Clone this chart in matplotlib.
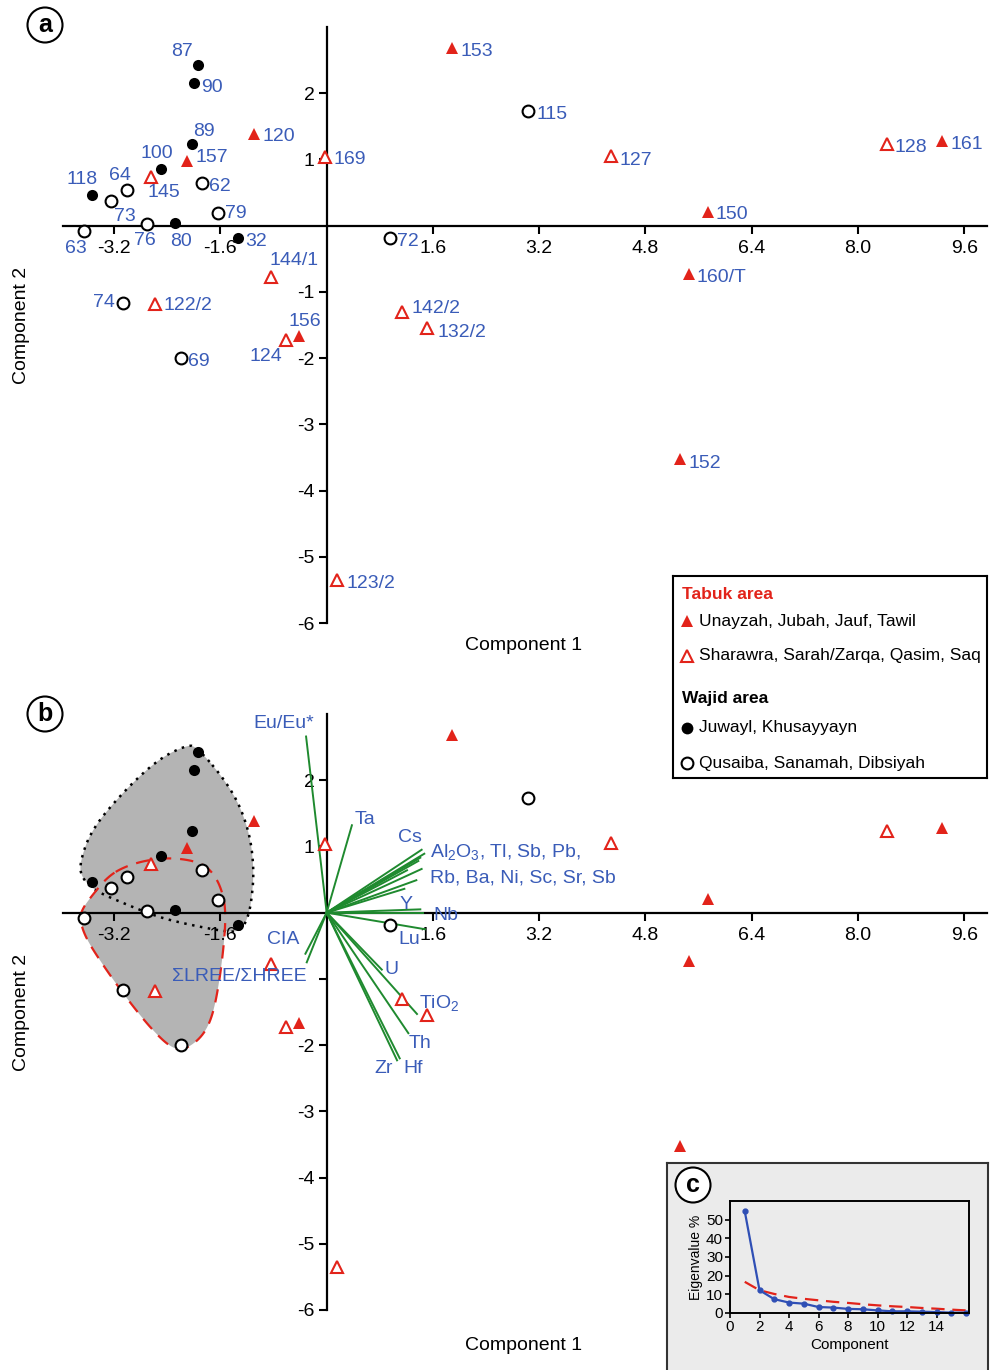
import matplotlib
matplotlib.use("Agg")
import matplotlib.pyplot as plt
import numpy as np
from matplotlib.patches import Polygon

plt.rcParams["font.family"] = ["Liberation Sans", "DejaVu Sans"]
plt.rcParams["mathtext.fontset"] = "custom"
plt.rcParams["mathtext.rm"] = "Liberation Sans"
plt.rcParams["mathtext.it"] = "Liberation Sans:italic"
plt.rcParams["mathtext.bf"] = "Liberation Sans:bold"

BLUE = "#3a5cb8"
RED = "#e2231a"
GREEN = "#1f8a2f"
GRAY_FILL = "#b4b4b4"

# ---- PCA scores (component 1, component 2) ----
tabuk_filled_ids = ["153", "120", "157", "161", "150", "160/T", "156", "152"]
tabuk_filled_pc1 = [1.88, -1.10, -2.11, 9.27, 5.74, 5.45, -0.42, 5.32]
tabuk_filled_pc2 = [2.68, 1.39, 0.98, 1.28, 0.21, -0.73, -1.67, -3.53]

tabuk_open_ids = ["169", "127", "128", "145", "144/1", "122/2", "142/2", "132/2", "124", "123/2"]
tabuk_open_pc1 = [-0.03, 4.28, 8.44, -2.64, -0.84, -2.58, 1.13, 1.51, -0.61, 0.16]
tabuk_open_pc2 = [1.04, 1.05, 1.24, 0.73, -0.77, -1.18, -1.31, -1.55, -1.73, -5.35]

wajid_filled_ids = ["87", "90", "89", "100", "118", "80", "32"]
wajid_filled_pc1 = [-1.93, -2.00, -2.03, -2.50, -3.53, -2.28, -1.34]
wajid_filled_pc2 = [2.43, 2.15, 1.23, 0.86, 0.46, 0.04, -0.19]

wajid_open_ids = ["115", "64", "73", "62", "79", "76", "63", "72", "74", "69"]
wajid_open_pc1 = [3.03, -3.01, -3.24, -1.88, -1.64, -2.71, -3.65, 0.95, -3.07, -2.20]
wajid_open_pc2 = [1.73, 0.54, 0.38, 0.65, 0.19, 0.03, -0.08, -0.18, -1.17, -2.00]

# label offsets in pixels (dx, dy) from the marker
label_offsets = {
    "87": (-16, 13), "90": (18, -4), "89": (12, 13), "120": (25, -3), "169": (25, -3),
    "153": (25, -3), "115": (24, -3), "127": (25, -4), "128": (24, -4), "161": (24, -4),
    "150": (24, -3), "100": (-4, 15), "157": (25, 3), "118": (-10, 16), "64": (-7, 14),
    "145": (13, -15), "62": (18, -4), "73": (13, -16), "79": (18, 0), "76": (-2, -17),
    "80": (6, -18), "63": (-8, -18), "32": (18, -3), "72": (18, -4), "160/T": (33, -3),
    "144/1": (23, 16), "74": (-19, 1), "122/2": (33, -2), "142/2": (34, 4),
    "132/2": (35, -4), "156": (6, 15), "124": (-20, -16), "69": (18, -3),
    "152": (25, -4), "123/2": (34, -4),
}

# ---- loading vectors (panel b) ----
vector_pc1 = [-0.31, 0.38, 1.43, 1.47, 1.41, 1.38, 1.21, 1.43, 1.35, 1.17,
              1.41, 1.45, 1.48, -0.32, -0.30, 0.83, 1.36, 1.23, 1.06, 1.10]
vector_pc2 = [2.66, 1.32, 0.95, 0.89, 0.83, 0.78, 0.64, 0.66, 0.49, 0.36,
              0.05, 0.00, -0.25, -0.62, -0.75, -0.86, -1.53, -1.82, -2.23, -2.20]

vector_labels = [
    ("Eu/Eu*", -0.64, 2.85, "center"),
    ("Ta", 0.58, 1.41, "center"),
    ("Cs", 1.26, 1.14, "center"),
    (r"Al$_2$O$_3$, Tl, Sb, Pb,", 1.56, 0.92, "left"),
    ("Rb, Ba, Ni, Sc, Sr, Sb", 1.56, 0.53, "left"),
    ("Y", 1.20, 0.12, "center"),
    ("Nb", 1.80, -0.05, "center"),
    ("Lu", 1.24, -0.41, "center"),
    ("CIA", -0.65, -0.41, "center"),
    ("ΣLREE/ΣHREE", -1.32, -0.97, "center"),
    ("U", 0.97, -0.86, "center"),
    (r"TiO$_2$", 1.70, -1.36, "center"),
    ("Th", 1.41, -1.98, "center"),
    ("Zr", 0.86, -2.36, "center"),
    ("Hf", 1.30, -2.36, "center"),
]

# ---- group outlines (panel b) ----
juwayl_outline_x = [-1.96, -1.42, -1.17, -1.09, -1.14, -1.22, -1.32, -1.50, -2.03, -2.53,
                    -3.03, -3.49, -3.69, -3.72, -3.54, -3.03, -2.53, -2.13]
juwayl_outline_y = [2.52, 1.86, 1.26, 0.65, 0.10, -0.16, -0.28, -0.29, -0.19, -0.07,
                    0.13, 0.33, 0.53, 0.75, 1.26, 1.86, 2.32, 2.52]

qusaiba_outline_x = [-3.29, -3.03, -2.68, -2.28, -1.87, -1.67, -1.55, -1.52, -1.55, -1.62,
                     -1.72, -1.87, -2.13, -2.33, -2.63, -3.03, -3.39, -3.64, -3.72, -3.67, -3.54]
qusaiba_outline_y = [0.55, 0.70, 0.80, 0.83, 0.75, 0.55, 0.25, -0.06, -0.51, -1.07,
                     -1.57, -1.87, -2.07, -2.05, -1.77, -1.27, -0.76, -0.36, -0.08, 0.07, 0.25]

# ---- eigenvalues (panel c) ----
component_no = list(range(1, 17))
eigen_pct = [54.5, 12.2, 7.4, 5.6, 5.0, 3.2, 2.9, 2.2, 2.0, 1.4, 0.9, 0.9, 0.7, 0.5, 0.2, 0.2]
broken_stick_pct = [16.7, 12.2, 10.2, 8.6, 7.6, 6.8, 6.0, 5.4, 4.7, 4.1, 3.6, 3.2, 2.7, 2.3, 1.8, 1.4]

xtick_vals = [-3.2, -1.6, 1.6, 3.2, 4.8, 6.4, 8.0, 9.6]
ytick_vals = [-6, -5, -4, -3, -2, -1, 1, 2]


def chaikin(xs, ys, n_iter=3):
    pts = np.column_stack([xs, ys])
    for _ in range(n_iter):
        nxt = np.roll(pts, -1, axis=0)
        q = 0.75 * pts + 0.25 * nxt
        r = 0.25 * pts + 0.75 * nxt
        pts = np.empty((2 * len(q), 2))
        pts[0::2] = q
        pts[1::2] = r
    return pts


def setup_axes(ax, hide_ylabels=()):
    ax.set_xlim(-3.97, 9.95)
    ax.set_ylim(-6, 3)
    ax.patch.set_visible(False)
    ax.spines["top"].set_visible(False)
    ax.spines["right"].set_visible(False)
    for s in ("left", "bottom"):
        ax.spines[s].set_position(("data", 0))
        ax.spines[s].set_linewidth(1.6)
    ax.set_xticks(xtick_vals)
    ax.set_xticklabels([f"{v:.1f}" for v in xtick_vals])
    ax.set_yticks(ytick_vals)
    ax.set_yticklabels(["" if v in hide_ylabels else str(v) for v in ytick_vals])
    ax.tick_params(direction="out", length=6, width=1.5, labelsize=14)
    ax.tick_params(axis="x", pad=4.5)
    ax.tick_params(axis="y", pad=2.5)


def plot_points(ax, zorder=4):
    ax.plot(tabuk_filled_pc1, tabuk_filled_pc2, "^", color=RED, ms=8, mew=0, zorder=zorder, clip_on=False)
    ax.plot(tabuk_open_pc1, tabuk_open_pc2, "^", mfc="white", mec=RED, ms=8, mew=1.5, zorder=zorder, clip_on=False)
    ax.plot(wajid_filled_pc1, wajid_filled_pc2, "o", color="black", ms=8, mew=0, zorder=zorder, clip_on=False)
    ax.plot(wajid_open_pc1, wajid_open_pc2, "o", mfc="white", mec="black", ms=8.5, mew=1.5, zorder=zorder, clip_on=False)


def panel_letter(fig, x, y, letter):
    fig.text(x, y, letter, fontsize=18, fontweight="bold", ha="center", va="center",
             bbox=dict(boxstyle="circle,pad=0.22", fc="white", ec="black", lw=1.5))


fig = plt.figure(figsize=(9.94, 13.70), dpi=100)

# ---------------- panel a ----------------
ax_a = fig.add_axes([63 / 994, (1370 - 623) / 1370, 924.5 / 994, 596 / 1370])
setup_axes(ax_a)
plot_points(ax_a)
all_ids = tabuk_filled_ids + tabuk_open_ids + wajid_filled_ids + wajid_open_ids
all_x = tabuk_filled_pc1 + tabuk_open_pc1 + wajid_filled_pc1 + wajid_open_pc1
all_y = tabuk_filled_pc2 + tabuk_open_pc2 + wajid_filled_pc2 + wajid_open_pc2
for sid, px, py in zip(all_ids, all_x, all_y):
    dx, dy = label_offsets[sid]
    ax_a.annotate(sid, (px, py), xytext=(dx, dy), textcoords="offset pixels",
                  ha="center", va="center", fontsize=14, color=BLUE, zorder=5)

# ---------------- panel b ----------------
ax_b = fig.add_axes([63 / 994, (1370 - 1310) / 1370, 924.5 / 994, 596 / 1370])
setup_axes(ax_b, hide_ylabels=(-1,))

juwayl_pts = chaikin(juwayl_outline_x, juwayl_outline_y)
qusaiba_pts = chaikin(qusaiba_outline_x, qusaiba_outline_y)
ax_b.add_patch(Polygon(juwayl_pts, closed=True, fc=GRAY_FILL, ec="none", zorder=1))
ax_b.add_patch(Polygon(qusaiba_pts, closed=True, fc=GRAY_FILL, ec="none", zorder=1))
ax_b.add_patch(Polygon(juwayl_pts, closed=True, fill=False, ec="black", lw=1.8,
                       linestyle=(0, (1, 2.2)), zorder=1.5))
ax_b.add_patch(Polygon(qusaiba_pts, closed=True, fill=False, ec=RED, lw=1.6,
                       linestyle=(0, (6, 4)), zorder=1.6))

for vx, vy in zip(vector_pc1, vector_pc2):
    ax_b.plot([0, vx], [0, vy], color=GREEN, lw=1.4, zorder=3)
for txt, tx, ty, ha in vector_labels:
    ax_b.text(tx, ty, txt, ha=ha, va="center", fontsize=14, color=BLUE, zorder=5)

plot_points(ax_b)

# axis titles
for yc in (645, 1345):
    fig.text(524 / 994, 1 - yc / 1370, "Component 1", fontsize=14, ha="center", va="center")
for yc in (325, 1012):
    fig.text(22 / 994, 1 - yc / 1370, "Component 2", fontsize=14, ha="center", va="center", rotation=90)

panel_letter(fig, 45 / 994, 1 - 25 / 1370, "a")
panel_letter(fig, 45 / 994, 1 - 714 / 1370, "b")

# ---------------- legend ----------------
leg = fig.add_axes([673 / 994, (1370 - 778) / 1370, 314 / 994, 202 / 1370])
leg.set_xlim(0, 1)
leg.set_ylim(0, 1)
leg.set_xticks([])
leg.set_yticks([])
for s in leg.spines.values():
    s.set_linewidth(1.5)
tx0 = 0.083
fs_leg = 12.5
leg.text(0.029, 0.906, "Tabuk area", color=RED, fontweight="bold", fontsize=fs_leg, va="center")
leg.plot([0.046], [0.777], "^", color=RED, ms=8.5, mew=0)
leg.text(tx0, 0.777, "Unayzah, Jubah, Jauf, Tawil", fontsize=fs_leg, va="center")
leg.plot([0.045], [0.604], "^", mfc="white", mec=RED, ms=8.5, mew=1.5)
leg.text(tx0, 0.604, "Sharawra, Sarah/Zarqa, Qasim, Saq", fontsize=fs_leg, va="center")
leg.text(0.029, 0.396, "Wajid area", color="black", fontweight="bold", fontsize=fs_leg, va="center")
leg.plot([0.045], [0.248], "o", color="black", ms=8.5, mew=0)
leg.text(tx0, 0.248, "Juwayl, Khusayyayn", fontsize=fs_leg, va="center")
leg.plot([0.045], [0.074], "o", mfc="white", mec="black", ms=8.5, mew=1.5)
leg.text(tx0, 0.074, "Qusaiba, Sanamah, Dibsiyah", fontsize=fs_leg, va="center")

# ---------------- panel c (inset) ----------------
box = fig.add_axes([667 / 994, -0.01, 321 / 994, (1370 - 1163) / 1370 + 0.01])
box.set_facecolor("#ebebeb")
box.set_xticks([])
box.set_yticks([])
for s in box.spines.values():
    s.set_linewidth(1.5)
    s.set_color("#333333")

ax_c = fig.add_axes([730 / 994, (1370 - 1313) / 1370, 239 / 994, 112 / 1370])
ax_c.patch.set_visible(False)
ax_c.plot(component_no, broken_stick_pct, color=RED, lw=1.6, linestyle=(0, (6, 3.5)))
ax_c.plot(component_no, eigen_pct, color="#2f4fb5", lw=1.6, marker="o", ms=3.5, clip_on=False)
ax_c.set_xlim(0, 16.2)
ax_c.set_ylim(0, 60)
ax_c.set_xticks(range(0, 15, 2))
ax_c.set_yticks(range(0, 51, 10))
for s in ax_c.spines.values():
    s.set_linewidth(1.4)
ax_c.tick_params(direction="out", length=3.5, width=1.2, labelsize=11, pad=1.5)
ax_c.set_xlabel("Component", fontsize=11, labelpad=3)
ax_c.set_ylabel("Eigenvalue %", fontsize=10, labelpad=2)
panel_letter(fig, 693 / 994, 1 - 1185 / 1370, "c")

fig.savefig("out.png", dpi=100)
